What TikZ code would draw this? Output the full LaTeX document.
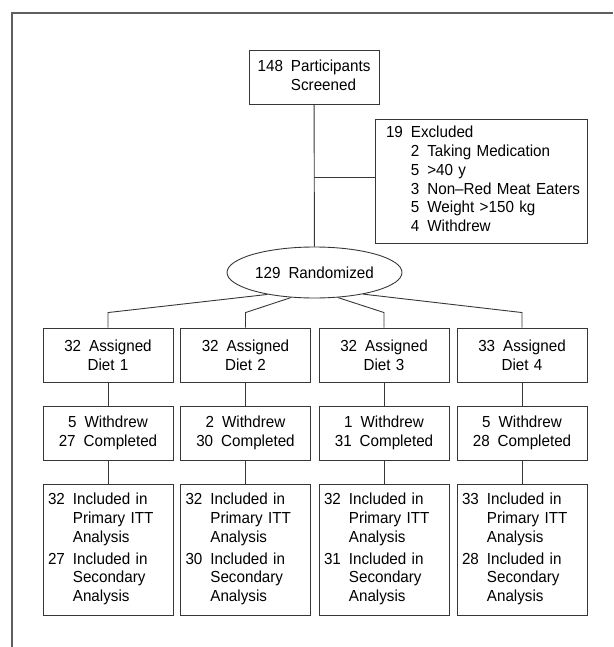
\documentclass[tikz,border=0pt]{standalone}
\usepackage{fontspec}
\setmainfont{Liberation Sans}[FakeStretch=0.95]
\usetikzlibrary{shapes.geometric, positioning, calc}
\definecolor{LineGray}{RGB}{55, 55, 55}
\definecolor{FrameGray}{RGB}{95, 95, 95}

\begin{document}
\begin{tikzpicture}[x=1pt, y=-1pt,
    every node/.style={font=\fontsize{16}{18.8}\selectfont},
    box/.style={draw=LineGray, line width=0.9pt, inner xsep=5pt, inner ysep=0pt,
                text width=120pt, minimum height=#1},
    box/.default=54pt,
    link/.style={draw=LineGray, line width=0.9pt}]
    \useasboundingbox (0,0) rectangle (613,647);
    % outer frame, only top and left edge show
    \draw[FrameGray, line width=1.5pt] (12,647) -- (12,13) -- (613,13);

    % screening and exclusions
    \node[draw=LineGray, line width=0.9pt, minimum width=130pt, minimum height=54pt, inner sep=0pt] (screen) at (314, 77)
        {\begin{tabular}{@{}r@{\enspace}l@{}} 148 & Participants\\ & Screened \end{tabular}};
    \node[draw=LineGray, line width=0.9pt, inner xsep=11pt, inner ysep=0pt, text width=190pt,
          minimum height=124pt, align=left] (excl) at (481, 181)
        {\begin{tabular}{@{}l@{\enspace}l@{\enspace}l@{}}
            19 & \multicolumn{2}{@{}l@{}}{Excluded}\\
               & 2 & Taking Medication\\
               & 5 & >40 y\\
               & 3 & Non--Red Meat Eaters\\
               & 5 & Weight >150 kg\\
               & 4 & Withdrew
         \end{tabular}};
    \node[ellipse, draw=LineGray, line width=0.9pt, minimum width=175pt, minimum height=51pt, inner sep=0pt] (rand)
        at (314.5, 272.5) {129\enspace Randomized};

    \coordinate (junc) at (314, 177);
    \draw[link] (screen) -- (rand);
    \draw[link] (junc) -- (junc -| excl.west);

    % one column per diet
    \foreach \x/\na/\nw/\nc/\ang [count=\i] in {108/32/5/27/205, 245.5/32/2/30/227,
                                                 384/32/1/31/313, 522/33/5/28/336} {
        \node[box, align=center] (diet\i) at (\x, 355) {\na\enspace Assigned\\Diet \i};
        \node[box, align=center] (out\i) at (\x, 433) {\nw\enspace Withdrew\\\nc\enspace Completed};
        \node[box=131pt, align=left] (ana\i) at (\x, 549.5)
            {\begin{tabular}{@{}l@{\enspace}l@{}}
                \na & Included in\\ & Primary ITT\\ & Analysis\\[3pt]
                \nc & Included in\\ & Secondary\\ & Analysis
             \end{tabular}};
        \draw[link] (rand.\ang) -- ([yshift=15pt]diet\i.north) -- (diet\i);
        \draw[link] (diet\i) -- (out\i);
        \draw[link] (out\i) -- (ana\i);
    }
\end{tikzpicture}
\end{document}
